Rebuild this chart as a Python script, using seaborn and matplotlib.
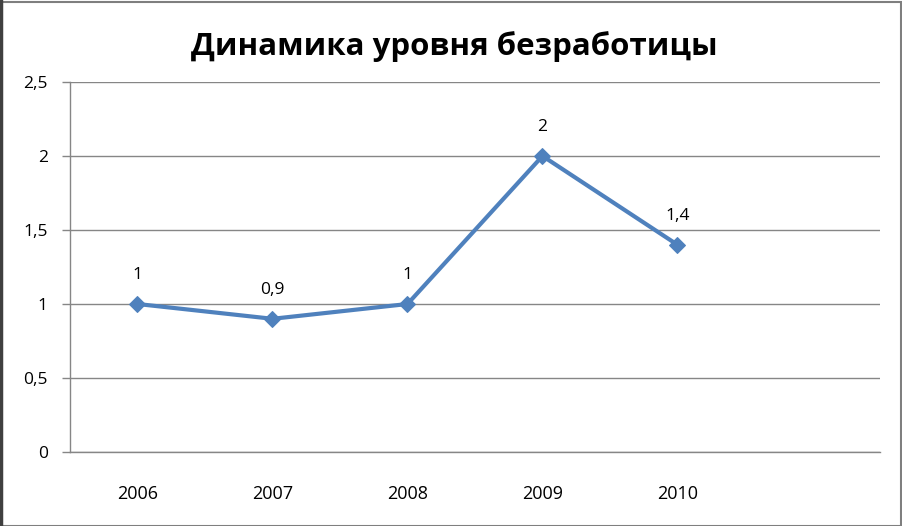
import numpy as np
import pandas as pd
import matplotlib
matplotlib.use("Agg")
import matplotlib.pyplot as plt
import seaborn as sns
from matplotlib.patches import Rectangle

# Data
years = ["2006", "2007", "2008", "2009", "2010"]
values = [1.0, 0.9, 1.0, 2.0, 1.4]
value_labels = ["1", "0,9", "1", "2", "1,4"]
y_ticks = [0, 0.5, 1, 1.5, 2, 2.5]
y_tick_labels = ["0", "0,5", "1", "1,5", "2", "2,5"]

sns.set_style("white")
plt.rcParams["font.family"] = ["Open Sans", "DejaVu Sans"]

W, H = 903, 526
fig = plt.figure(figsize=(W / 100, H / 100), dpi=100)
ax = fig.add_axes([70 / W, (H - 452) / H, (880 - 70) / W, (452 - 82) / H])

df = pd.DataFrame({"pos": np.arange(len(years)), "value": values})
blue = "#4F81BD"
sns.lineplot(data=df, x="pos", y="value", ax=ax, color=blue, linewidth=3,
             marker="D", markersize=8.5, markeredgecolor=blue)

for x, y, lab in zip(df["pos"], df["value"], value_labels):
    ax.annotate(lab, (x, y), xytext=(0, 15), textcoords="offset points",
                ha="center", va="bottom", fontsize=12.5, color="black")

grid = "#868686"
ax.set_xlim(-0.5, 5.5)
ax.set_ylim(0, 2.5)
ax.set_yticks(y_ticks)
ax.set_yticklabels(y_tick_labels, fontsize=12.5)
ax.yaxis.grid(True, color=grid, linewidth=1)
ax.set_xticks(np.arange(len(years)))
ax.set_xticklabels(years, fontsize=13)
ax.set_xticks(np.arange(-0.5, 6.0, 1.0), minor=True)
ax.tick_params(axis="x", which="major", length=0, pad=24, labelcolor="black")
ax.tick_params(axis="x", which="minor", length=5, color=grid, width=1, direction="out")
ax.tick_params(axis="y", length=6, color=grid, width=1, direction="out", pad=10, left=True,
               labelcolor="black")
ax.set_xlabel("")
ax.set_ylabel("")
for side in ["top", "right"]:
    ax.spines[side].set_visible(False)
for side in ["left", "bottom"]:
    ax.spines[side].set_color(grid)
    ax.spines[side].set_linewidth(1)

fig.text(454 / W, 1 - 47 / H, "Динамика уровня безработицы", ha="center", va="center",
         fontsize=22.5, fontweight="bold", color="black")

# outer chart frame
fig.patches.append(Rectangle((0.5 / W, 0.5 / H), 1 - 2 / W, 1 - 2 / H, transform=fig.transFigure,
                             fill=False, edgecolor="#7F7F7F", linewidth=1.5))
fig.add_artist(plt.Line2D([1.5 / W, 1.5 / W], [0, 1], transform=fig.transFigure,
                          color="#404040", linewidth=2.5))

fig.savefig("out.png", dpi=100)
